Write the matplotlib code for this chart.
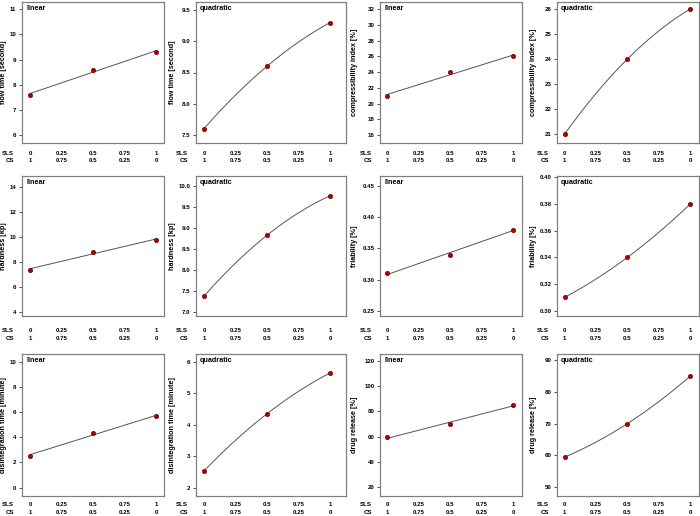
import numpy as np
import matplotlib
matplotlib.use("Agg")
import matplotlib.pyplot as plt
from matplotlib import transforms

plt.rcParams['font.family'] = ['Liberation Sans', 'DejaVu Sans']

# ---- data ----
sls_levels = [0, 0.5, 1]
flow_time = [7.6, 8.6, 9.3]
compressibility = [21, 24, 26]
hardness = [7.37, 8.82, 9.76]
friability = [0.31, 0.34, 0.38]
disintegration = [2.53, 4.35, 5.65]
drug_release = [59.4, 70.0, 85.0]

sls_ticks = [0, 0.25, 0.5, 0.75, 1]
sls_labels = ["0", "0.25", "0.5", "0.75", "1"]
cs_labels = ["1", "0.75", "0.5", "0.25", "0"]

responses = [
    ("flow time [second]", flow_time),
    ("compressibility index [%]", compressibility),
    ("hardness [kp]", hardness),
    ("friability [%]", friability),
    ("disintegration time [minute]", disintegration),
    ("drug release [%]", drug_release),
]

# y ticks per panel (row, col)
yticks = {
    (0, 0): ([6, 7, 8, 9, 10, 11], ["6", "7", "8", "9", "10", "11"]),
    (0, 1): ([7.5, 8.0, 8.5, 9.0, 9.5], ["7.5", "8.0", "8.5", "9.0", "9.5"]),
    (0, 2): ([16, 18, 20, 22, 24, 26, 28, 30, 32], ["16", "18", "20", "22", "24", "26", "28", "30", "32"]),
    (0, 3): ([21, 22, 23, 24, 25, 26], ["21", "22", "23", "24", "25", "26"]),
    (1, 0): ([4, 6, 8, 10, 12, 14], ["4", "6", "8", "10", "12", "14"]),
    (1, 1): ([7.0, 7.5, 8.0, 8.5, 9.0, 9.5, 10.0], ["7.0", "7.5", "8.0", "8.5", "9.0", "9.5", "10.0"]),
    (1, 2): ([0.25, 0.30, 0.35, 0.40, 0.45], ["0.25", "0.30", "0.35", "0.40", "0.45"]),
    (1, 3): ([0.30, 0.32, 0.34, 0.36, 0.38, 0.40], ["0.30", "0.32", "0.34", "0.36", "0.38", "0.40"]),
    (2, 0): ([0, 2, 4, 6, 8, 10], ["0", "2", "4", "6", "8", "10"]),
    (2, 1): ([2, 3, 4, 5, 6], ["2", "3", "4", "5", "6"]),
    (2, 2): ([20, 40, 60, 80, 100, 120], ["20", "40", "60", "80", "100", "120"]),
    (2, 3): ([50, 60, 70, 80, 90], ["50", "60", "70", "80", "90"]),
}
ylims = {
    (0, 0): (5.68, 11.29), (0, 1): (7.37, 9.63), (0, 2): (14.98, 32.93), (0, 3): (20.64, 26.28),
    (1, 0): (3.65, 14.91), (1, 1): (6.90, 10.23), (1, 2): (0.242, 0.4655), (1, 3): (0.296, 0.401),
    (2, 0): (-0.67, 10.61), (2, 1): (1.73, 6.256), (2, 2): (13.1, 125.3), (2, 3): (47.1, 92.0),
}
xlims = [(-0.065, 1.063), (-0.063, 1.127), (-0.059, 1.072), (-0.061, 1.07)]

W, H = 700, 516
fig = plt.figure(figsize=(W / 100, H / 100), dpi=100)

col_x = [(22, 164), (196, 346), (380, 522), (557, 699)]
row_y = [(2, 143), (176, 316), (354, 496)]
row_lab = [(153, 161), (331, 339), (505, 513)]
ylab_x = [7, 176, 358, 537]

fs_tick = 4.4
fs_lab = 5.2
pt_col = "#b00000"

for r in range(3):
    for c in range(4):
        resp_idx = r * 2 + c // 2
        ylabel, yvals = responses[resp_idx]
        quad = (c % 2 == 1)
        x0, x1 = col_x[c]
        yt, yb = row_y[r]
        ax = fig.add_axes([x0 / W, 1 - yb / H, (x1 - x0) / W, (yb - yt) / H])
        ax.set_xlim(*xlims[c])
        ax.set_ylim(*ylims[(r, c)])
        deg = 2 if quad else 1
        coef = np.polyfit(sls_levels, yvals, deg)
        xs = np.linspace(0, 1, 200)
        ax.plot(xs, np.polyval(coef, xs), color="#555555", lw=0.7, zorder=2)
        ax.plot(sls_levels, yvals, "o", ms=3.2, mfc=pt_col, mec="#5a0000", mew=0.4, zorder=3)
        for s in ax.spines.values():
            s.set_color("#808080")
            s.set_linewidth(0.9)
        ax.set_xticks([])
        tv, tl = yticks[(r, c)]
        ax.set_yticks(tv)
        ax.set_yticklabels(tl, fontsize=fs_tick, fontweight="bold")
        ax.tick_params(axis="y", length=2.5, width=0.6, pad=1.5, color="#333333")
        ax.set_ylabel(ylabel, fontsize=fs_lab, fontweight="bold")
        ax.yaxis.set_label_coords(ylab_x[c] / W, 1 - (yt + yb) / 2 / H, transform=fig.transFigure)
        ax.annotate("quadratic" if quad else "linear", xy=(0, 1), xycoords="axes fraction",
                    xytext=(3, -5), textcoords="offset points", ha="left", va="center",
                    fontsize=fs_lab, fontweight="bold")
        trans = transforms.blended_transform_factory(ax.transData, fig.transFigure)
        ys, yc = row_lab[r]
        for xv, a, b in zip(sls_ticks, sls_labels, cs_labels):
            ax.text(xv, 1 - ys / H, a, transform=trans, ha="center", va="center",
                    fontsize=fs_tick, fontweight="bold")
            ax.text(xv, 1 - yc / H, b, transform=trans, ha="center", va="center",
                    fontsize=fs_tick, fontweight="bold")
        fig.text((x0 - 8) / W, 1 - ys / H, "SLS", ha="right", va="center",
                 fontsize=fs_tick, fontweight="bold")
        fig.text((x0 - 8) / W, 1 - yc / H, "CS", ha="right", va="center",
                 fontsize=fs_tick, fontweight="bold")

fig.savefig("out.png", dpi=100)
